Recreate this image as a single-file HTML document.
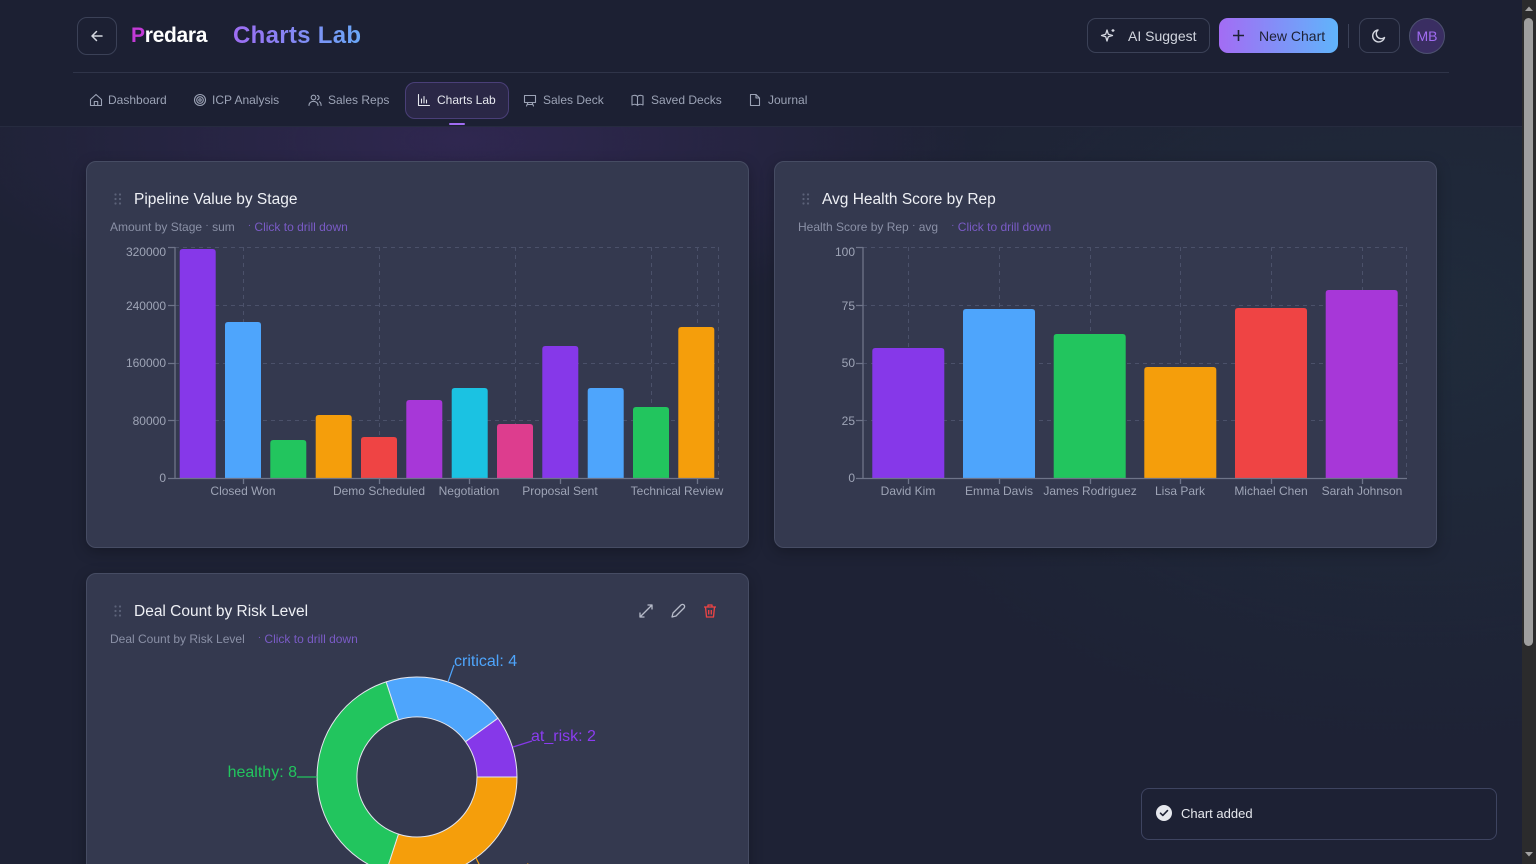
<!DOCTYPE html>
<html>
<head>
<meta charset="utf-8">
<style>
*{margin:0;padding:0;box-sizing:border-box}
html,body{width:1536px;height:864px;overflow:hidden}
body{font-family:"Liberation Sans",sans-serif;position:relative;
background:
radial-gradient(ellipse 520px 180px at 460px 140px, rgba(92,52,150,0.28), rgba(0,0,0,0)),
radial-gradient(ellipse 600px 420px at 1420px 330px, rgba(40,90,90,0.16), rgba(0,0,0,0)),
#1e2235;}
.abs{position:absolute}
.header{position:absolute;left:0;top:0;width:1522px;height:127px;background:#1c2033;border-bottom:1px solid #262b3f}
.btn{position:absolute;border:1px solid #3b4157;border-radius:10px}
.nav{position:absolute;top:92px;font-size:12px;color:#9ca3b6;white-space:nowrap;line-height:16px}
.card{position:absolute;background:#34394f;border:1px solid #464c63;border-radius:10px;box-shadow:0 4px 14px rgba(0,0,0,0.25)}
.title{position:absolute;font-size:15.5px;color:#eef0f5;white-space:nowrap;line-height:18px}
.sub{position:absolute;font-size:12px;color:#8a90a6;white-space:nowrap;line-height:14px}
.sub span.l{color:#7a5bc6;margin-left:3px}
.dot{position:relative;top:-3px;font-size:10px}
</style>
</head>
<body>
<div class="header"></div>
<div class="btn" style="left:77px;top:17px;width:40px;height:38px;"></div>
<svg class="abs" style="left:89px;top:28px" width="16" height="16" viewBox="0 0 16 16"><path d="M13 8H3M7.5 3.5L3 8l4.5 4.5" stroke="#d4d7e0" stroke-width="1.5" fill="none" stroke-linecap="round" stroke-linejoin="round"/></svg>
<div class="abs" style="left:131px;top:23px;font-size:21px;font-weight:bold;color:#fff;line-height:26px;letter-spacing:-0.3px"><span style="color:#c23ad6">P</span>redara</div>
<div class="abs" style="left:233px;top:21px;font-size:24px;font-weight:bold;line-height:30px;letter-spacing:0.3px;background:linear-gradient(90deg,#9d6cf2,#6aa8f8);-webkit-background-clip:text;background-clip:text;color:transparent">Charts Lab</div>
<div class="btn" style="left:1087px;top:18px;width:123px;height:35px;border-radius:9px"></div>
<svg class="abs" style="left:1099px;top:27px" width="18" height="18" viewBox="0 0 18 18"><path d="M8 3 L9.3 7.2 L13.5 8.5 L9.3 9.8 L8 14 L6.7 9.8 L2.5 8.5 L6.7 7.2 Z" stroke="#d4d7e0" stroke-width="1.3" fill="none" stroke-linejoin="round"/><path d="M14 2v3M12.5 3.5h3" stroke="#d4d7e0" stroke-width="1.2"/></svg>
<div class="abs" style="left:1128px;top:28px;font-size:14px;color:#d1d5de;line-height:17px">AI Suggest</div>
<div class="abs" style="left:1219px;top:18px;width:119px;height:35px;border-radius:9px;background:linear-gradient(90deg,#a36cf4,#60b4fb)"></div>
<svg class="abs" style="left:1231px;top:28px" width="15" height="15" viewBox="0 0 15 15"><path d="M7.5 2v11M2 7.5h11" stroke="#1e2235" stroke-width="1.6"/></svg>
<div class="abs" style="left:1259px;top:28px;font-size:14px;color:#1e2235;line-height:17px">New Chart</div>
<div class="abs" style="left:1348px;top:24px;width:1px;height:24px;background:#3b4157"></div>
<div class="btn" style="left:1359px;top:18px;width:41px;height:35px;border-radius:9px"></div>
<svg class="abs" style="left:1371px;top:27px" width="17" height="17" viewBox="0 0 17 17"><path d="M13.5 10.5A6 6 0 1 1 7 3a4.6 4.6 0 0 0 6.5 7.5z" stroke="#d4d7e0" stroke-width="1.4" fill="none" stroke-linejoin="round"/></svg>
<div class="abs" style="left:1409px;top:18px;width:36px;height:36px;border-radius:50%;background:#3a2e62;border:1px solid #4d5170;color:#a06cf2;font-size:14px;line-height:34px;text-align:center">MB</div>
<div class="abs" style="left:73px;top:72px;width:1376px;height:1px;background:#2f3449"></div>

<div class="abs" style="left:405px;top:82px;width:104px;height:37px;border-radius:10px;background:#2a2746;border:1px solid #4a3f78"></div>
<div class="abs" style="left:449px;top:123px;width:16px;height:2px;background:#a06cf2;border-radius:1px"></div>
<svg class="abs" style="left:0;top:0" width="830" height="127">
 <g stroke="#9ca3b6" stroke-width="1.1" fill="none" stroke-linejoin="round" stroke-linecap="round">
  <path d="M90.5 99.5 L96 94.5 L101.5 99.5 V105.5 H90.5 Z M94.3 105.5 V101.5 H97.7 V105.5"/>
  <circle cx="200" cy="100" r="5.5"/><circle cx="200" cy="100" r="3.3"/><circle cx="200" cy="100" r="1.2"/>
  <circle cx="313.5" cy="97.5" r="2.3"/><path d="M309 105.5c0-2.6 2-4.2 4.5-4.2s4.5 1.6 4.5 4.2"/><path d="M317.5 95.5a2.2 2.2 0 0 1 0 4.2M319.5 101.8c1 .6 1.6 1.8 1.6 3.7"/>
  <path d="M418.5 94.5 V105.5 H429.5" stroke="#e6e8ef"/><path d="M421.5 103 V99 M424 103 V96.5 M426.5 103 V100" stroke="#e6e8ef"/>
  <path d="M524.5 95.5 H535.5 V102.5 H524.5 Z M528 102.5 L526.5 106 M532 102.5 L533.5 106 M527.5 104.5 H532.5"/>
  <path d="M632 96 C634 95 636 95 637.5 96.5 C639 95 641 95 643 96 V105 C641 104 639 104 637.5 105.3 C636 104 634 104 632 105 Z M637.5 96.5 V105.3"/>
  <path d="M750.5 94.5 H756 L759.5 98 V105.5 H750.5 Z M756 94.5 V98 H759.5"/>
 </g>
</svg>
<div class="nav" style="left:108px">Dashboard</div>
<div class="nav" style="left:212px">ICP Analysis</div>
<div class="nav" style="left:328px">Sales Reps</div>
<div class="nav" style="left:437px;color:#e6e8ef">Charts Lab</div>
<div class="nav" style="left:543px">Sales Deck</div>
<div class="nav" style="left:651px">Saved Decks</div>
<div class="nav" style="left:768px">Journal</div>

<div class="card" style="left:86px;top:161px;width:663px;height:387px"></div>
<div class="card" style="left:774px;top:161px;width:663px;height:387px"></div>
<div class="card" style="left:86px;top:573px;width:663px;height:320px"></div>

<div class="title" style="left:134px;top:191px">Pipeline Value by Stage</div>
<div class="sub" style="left:110px;top:220px">Amount by Stage <span class="dot">·</span> sum &nbsp;&nbsp;<span class="l"><span class="dot">·</span> Click to drill down</span></div>
<div class="title" style="left:822px;top:191px">Avg Health Score by Rep</div>
<div class="sub" style="left:798px;top:220px">Health Score by Rep <span class="dot">·</span> avg &nbsp;&nbsp;<span class="l"><span class="dot">·</span> Click to drill down</span></div>
<div class="title" style="left:134px;top:603px">Deal Count by Risk Level</div>
<div class="sub" style="left:110px;top:632px">Deal Count by Risk Level &nbsp;&nbsp;<span class="l"><span class="dot">·</span> Click to drill down</span></div>

<svg class="abs" style="left:0;top:0" width="1536" height="864" font-family="Liberation Sans, sans-serif">
 <g fill="#5c6279">
  <circle cx="115.5" cy="194.5" r="1.1"/><circle cx="120" cy="194.5" r="1.1"/><circle cx="115.5" cy="199" r="1.1"/><circle cx="120" cy="199" r="1.1"/><circle cx="115.5" cy="203.5" r="1.1"/><circle cx="120" cy="203.5" r="1.1"/>
  <circle cx="803.5" cy="194.5" r="1.1"/><circle cx="808" cy="194.5" r="1.1"/><circle cx="803.5" cy="199" r="1.1"/><circle cx="808" cy="199" r="1.1"/><circle cx="803.5" cy="203.5" r="1.1"/><circle cx="808" cy="203.5" r="1.1"/>
  <circle cx="115.5" cy="606.5" r="1.1"/><circle cx="120" cy="606.5" r="1.1"/><circle cx="115.5" cy="611" r="1.1"/><circle cx="120" cy="611" r="1.1"/><circle cx="115.5" cy="615.5" r="1.1"/><circle cx="120" cy="615.5" r="1.1"/>
 </g>

 <g stroke="#4b516a" stroke-width="1" stroke-dasharray="4 4" fill="none">
  <path d="M175 247.5H719M175 305.5H719M175 363.5H719M175 420.5H719"/>
  <path d="M243.5 247V478M379.5 247V478M515.5 247V478M651.5 247V478M697.5 247V478M718.5 247V478"/>
 </g>
 <g>
  <path d="M179.7 478V252Q179.7 249 182.7 249H212.7Q215.7 249 215.7 252V478Z" fill="#8638e9"/>
  <path d="M225 478V325Q225 322 228 322H258Q261 322 261 325V478Z" fill="#4ea5fc"/>
  <path d="M270.3 478V443Q270.3 440 273.3 440H303.3Q306.3 440 306.3 443V478Z" fill="#22c55e"/>
  <path d="M315.7 478V418Q315.7 415 318.7 415H348.7Q351.7 415 351.7 418V478Z" fill="#f59e0b"/>
  <path d="M361 478V440Q361 437 364 437H394Q397 437 397 440V478Z" fill="#ef4444"/>
  <path d="M406.3 478V403Q406.3 400 409.3 400H439.3Q442.3 400 442.3 403V478Z" fill="#a737d8"/>
  <path d="M451.7 478V391Q451.7 388 454.7 388H484.7Q487.7 388 487.7 391V478Z" fill="#1bc2e2"/>
  <path d="M497 478V427Q497 424 500 424H530Q533 424 533 427V478Z" fill="#dd3d8e"/>
  <path d="M542.3 478V349Q542.3 346 545.3 346H575.3Q578.3 346 578.3 349V478Z" fill="#8638e9"/>
  <path d="M587.7 478V391Q587.7 388 590.7 388H620.7Q623.7 388 623.7 391V478Z" fill="#4ea5fc"/>
  <path d="M633 478V410Q633 407 636 407H666Q669 407 669 410V478Z" fill="#22c55e"/>
  <path d="M678.3 478V330Q678.3 327 681.3 327H711.3Q714.3 327 714.3 330V478Z" fill="#f59e0b"/>
 </g>
 <g stroke="#6e7489" stroke-width="1.3" fill="none">
  <path d="M175 247V478.5M168 247.5H175M168 305.5H175M168 363.5H175M168 420.5H175M168 478.5H175"/>
  <path d="M175 478.5H719M243.5 478V484M379.5 478V484M469.5 478V484M560.5 478V484M697.5 478V484"/>
 </g>
 <g font-size="12" fill="#9ea4b6" text-anchor="end">
  <text x="166" y="256">320000</text><text x="166" y="310">240000</text><text x="166" y="367">160000</text><text x="166" y="425">80000</text><text x="166" y="482">0</text>
 </g>
 <g font-size="12" fill="#9ea4b6" text-anchor="middle">
  <text x="243" y="495">Closed Won</text><text x="379" y="495">Demo Scheduled</text><text x="469" y="495">Negotiation</text><text x="560" y="495">Proposal Sent</text><text x="677" y="495">Technical Review</text>
 </g>

 <g stroke="#4b516a" stroke-width="1" stroke-dasharray="4 4" fill="none">
  <path d="M863 247.5H1407M863 305.5H1407M863 363.5H1407M863 420.5H1407"/>
  <path d="M908.5 247V478M999.5 247V478M1090.5 247V478M1180.5 247V478M1271.5 247V478M1362.5 247V478M1406.5 247V478"/>
 </g>
 <g>
  <path d="M872.3 478V351Q872.3 348 875.3 348H941.3Q944.3 348 944.3 351V478Z" fill="#8638e9"/>
  <path d="M963 478V312Q963 309 966 309H1032Q1035 309 1035 312V478Z" fill="#4ea5fc"/>
  <path d="M1053.7 478V337Q1053.7 334 1056.7 334H1122.7Q1125.7 334 1125.7 337V478Z" fill="#22c55e"/>
  <path d="M1144.3 478V370Q1144.3 367 1147.3 367H1213.3Q1216.3 367 1216.3 370V478Z" fill="#f59e0b"/>
  <path d="M1235 478V311Q1235 308 1238 308H1304Q1307 308 1307 311V478Z" fill="#ef4444"/>
  <path d="M1325.7 478V293Q1325.7 290 1328.7 290H1394.7Q1397.7 290 1397.7 293V478Z" fill="#a737d8"/>
 </g>
 <g stroke="#6e7489" stroke-width="1.3" fill="none">
  <path d="M863 247V478.5M856 247.5H863M856 305.5H863M856 363.5H863M856 420.5H863M856 478.5H863"/>
  <path d="M863 478.5H1407M908.5 478V484M999.5 478V484M1090.5 478V484M1180.5 478V484M1271.5 478V484M1362.5 478V484"/>
 </g>
 <g font-size="12" fill="#9ea4b6" text-anchor="end">
  <text x="855" y="256">100</text><text x="855" y="310">75</text><text x="855" y="367">50</text><text x="855" y="425">25</text><text x="855" y="482">0</text>
 </g>
 <g font-size="12" fill="#9ea4b6" text-anchor="middle">
  <text x="908" y="495">David Kim</text><text x="999" y="495">Emma Davis</text><text x="1090" y="495">James Rodriguez</text><text x="1180" y="495">Lisa Park</text><text x="1271" y="495">Michael Chen</text><text x="1362" y="495">Sarah Johnson</text>
 </g>

 <g stroke="#b6bbc9" stroke-width="1.3" fill="none" stroke-linecap="round" stroke-linejoin="round">
  <path d="M640 617L652 605M648 605H652V609M640 613V617H644"/>
  <path d="M672 617L673 613L681 605A1.4 1.4 0 0 1 684 608L676 616Z"/>
 </g>
 <g stroke="#ef4444" stroke-width="1.3" fill="none" stroke-linejoin="round">
  <path d="M704 607H716M708 607V605H712V607M705.5 607L706.5 617H713.5L714.5 607M708.7 610V614.5M711.3 610V614.5"/>
 </g>

 <defs><clipPath id="c3"><rect x="87" y="653" width="660" height="220"/></clipPath></defs>
 <g clip-path="url(#c3)">
  <g stroke="#e4e6ee" stroke-width="1">
   <path d="M517,777 A100,100 0 0 0 497.9,718.2 L465.5,741.7 A60,60 0 0 1 477,777 Z" fill="#8638e9"/>
   <path d="M497.9,718.2 A100,100 0 0 0 386.1,681.9 L398.5,719.9 A60,60 0 0 1 465.5,741.7 Z" fill="#4ea5fc"/>
   <path d="M386.1,681.9 A100,100 0 0 0 386.1,872.1 L398.5,834.1 A60,60 0 0 1 398.5,719.9 Z" fill="#22c55e"/>
   <path d="M386.1,872.1 A100,100 0 0 0 517,777 L477,777 A60,60 0 0 1 398.5,834.1 Z" fill="#f59e0b"/>
  </g>
  <g fill="none" stroke-width="1.2">
   <path d="M448 682L454 665" stroke="#4ea5fc"/>
   <path d="M513 747L532 741" stroke="#8638e9"/>
   <path d="M297 777H317" stroke="#22c55e"/>
   <path d="M476 858L482 870H490" stroke="#f59e0b"/>
  </g>
  <g font-size="16">
   <text x="454" y="666" fill="#4ea5fc">critical: 4</text>
   <text x="531" y="741" fill="#8b3cf0">at_risk: 2</text>
   <text x="297" y="777" fill="#22c55e" text-anchor="end">healthy: 8</text>
   <text x="493" y="875" fill="#f59e0b">watch: 6</text>
  </g>
 </g>
</svg>

<div class="abs" style="left:1141px;top:788px;width:356px;height:52px;background:#1d2134;border:1px solid #3e4460;border-radius:8px"></div>
<svg class="abs" style="left:1155px;top:804px" width="18" height="18" viewBox="0 0 18 18"><circle cx="9" cy="9" r="8" fill="#e6e8ee"/><path d="M5.5 9.2L7.8 11.4L12.5 6.6" stroke="#1d2134" stroke-width="1.6" fill="none" stroke-linecap="round" stroke-linejoin="round"/></svg>
<div class="abs" style="left:1181px;top:806px;font-size:13px;color:#e6e8ee;line-height:15px">Chart added</div>

<div class="abs" style="left:1522px;top:0;width:14px;height:864px;background:#2b2b2c"></div>
<div class="abs" style="left:1524px;top:18px;width:9px;height:628px;background:#9f9f9f;border-radius:5px"></div>
<svg class="abs" style="left:1522px;top:0" width="14" height="864"><path d="M3 11L7 6.5L11 11Z" fill="#a3a3a3"/><path d="M3 852L7 856.5L11 852Z" fill="#a3a3a3"/></svg>
</body>
</html>
